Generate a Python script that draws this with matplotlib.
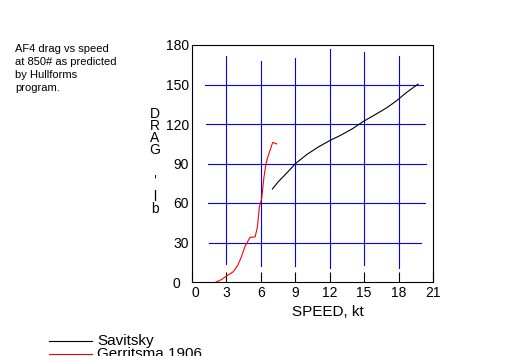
import matplotlib
matplotlib.use("Agg")
import matplotlib.pyplot as plt
from matplotlib.lines import Line2D
from matplotlib.transforms import ScaledTranslation

plt.rcParams["font.family"] = ["Liberation Sans", "DejaVu Sans"]

# Savitsky prediction
sav_speed = [7.0, 7.5, 8.0, 8.5, 9.0, 10.0, 11.0, 12.0, 12.9, 14.0, 14.9, 16.1, 17.0, 17.8, 18.7, 19.7]
sav_drag = [70.6, 76.0, 80.5, 85.0, 89.8, 96.8, 102.5, 107.4, 111.2, 116.5, 121.8, 127.8, 132.5, 137.5, 144.0, 150.3]

# Gerritsma 1906
ger_speed = [2.1, 2.6, 3.0, 3.6, 4.0, 4.3, 4.6, 5.05, 5.5, 5.7, 5.87, 6.07, 6.27, 6.45, 6.6, 7.03, 7.38]
ger_drag = [0.0, 2.0, 4.5, 7.8, 12.9, 19.0, 26.7, 33.8, 34.3, 41.8, 57.0, 63.3, 79.7, 89.8, 94.8, 106.0, 104.9]

# blue grid segments (value, start, end)
vgrid = [(3, 14, 172), (6, 12, 168), (9, 12, 170), (12, 11, 177), (15, 13, 175), (18, 11, 172)]
hgrid = [(30, 1.5, 19.95), (60, 1.4, 20.3), (90, 1.4, 20.4), (120, 1.2, 20.3), (150, 1.1, 20.1)]

xticks = [0, 3, 6, 9, 12, 15, 18, 21]
yticks = [0, 30, 60, 90, 120, 150, 180]

W, H = 520, 356
fig = plt.figure(figsize=(W / 100, H / 100), dpi=100)
ax = fig.add_axes([192 / W, 1 - 282 / H, 241 / W, 237 / H])

lw = 0.8
for x, y0, y1 in vgrid:
    ax.plot([x, x], [y0, y1], color="#0000ff", lw=lw)
for y, x0, x1 in hgrid:
    ax.plot([x0, x1], [y, y], color="#0000ff", lw=lw)

l1, = ax.plot(sav_speed, sav_drag, color="black", lw=lw)
l2, = ax.plot(ger_speed, ger_drag, color="#ff0000", lw=lw)

ax.set_xlim(0, 21)
ax.set_ylim(0, 180)
ax.set_xticks(xticks)
ax.set_yticks(yticks)
ax.tick_params(axis="x", direction="in", length=7.5, width=0.8, labelsize=10, pad=3)
ax.tick_params(axis="y", length=0, labelsize=10, pad=2)
for s in ax.spines.values():
    s.set_linewidth(0.8)

# the "0" labels sit a little off in the original
lab0 = ax.get_yticklabels()[0]
lab0.set_transform(lab0.get_transform() + ScaledTranslation(-9 / 100, 0, fig.dpi_scale_trans))
labx0 = ax.get_xticklabels()[0]
labx0.set_transform(labx0.get_transform() + ScaledTranslation(3 / 100, 0, fig.dpi_scale_trans))

ax.set_xlabel("SPEED, kt", fontsize=11, labelpad=0)
ax.xaxis.set_label_coords((328 - 192) / 241, -0.095)

# stacked y label
ylab = [("D", 113.5), ("R", 125.7), ("A", 137.9), ("G", 150.5), ("-", 176), ("l", 197), ("b", 209)]
for ch, py in ylab:
    fig.text(155 / W, 1 - py / H, ch, fontsize=10, ha="center", va="center",
             rotation=90 if ch == "-" else 0)

fig.text(15 / W, 1 - 44 / H,
         "AF4 drag vs speed\nat 850# as predicted\nby Hullforms\nprogram.",
         fontsize=8, ha="left", va="top", linespacing=1.36)

# legend at bottom
fig.add_artist(Line2D([49 / W, 92 / W], [1 - 341 / H] * 2, color="black", lw=lw))
fig.text(97 / W, 1 - 341 / H, "Savitsky", fontsize=11, ha="left", va="center")
fig.add_artist(Line2D([49 / W, 92 / W], [1 - 354 / H] * 2, color="#ff0000", lw=lw))
fig.text(97 / W, 1 - 354 / H, "Gerritsma 1906", fontsize=11, ha="left", va="center")

fig.savefig("out.png", dpi=100)
